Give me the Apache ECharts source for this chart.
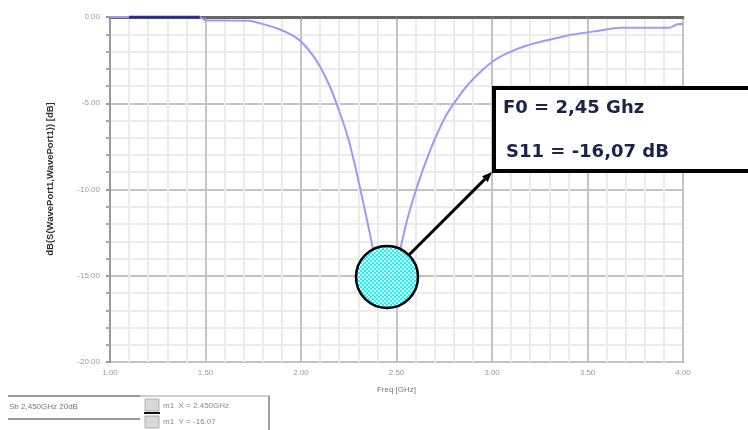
<!DOCTYPE html>
<html>
<head>
<meta charset="utf-8">
<script src="https://cdn.jsdelivr.net/npm/echarts@6/dist/echarts.min.js"></script>
<style>
html,body{margin:0;padding:0;background:#fff;}
#chart{width:748px;height:430px;}
</style>
</head>
<body>
<div id="chart"></div>
<script>
// ---- data ----
const freqGHz = [1.00, 1.47, 1.50, 1.73, 1.78, 1.83, 1.88, 1.93, 1.98, 2.02, 2.06, 2.10, 2.15, 2.20, 2.25, 2.30, 2.35, 2.40, 2.45, 2.50, 2.55, 2.60, 2.65, 2.70, 2.76, 2.82, 2.88, 2.95, 3.02, 3.09, 3.16, 3.25, 3.34, 3.42, 3.55, 3.67, 3.93, 3.97, 4.00];
const s11dB   = [0.00, 0.00, -0.20, -0.22, -0.35, -0.50, -0.68, -0.92, -1.24, -1.65, -2.20, -2.88, -4.00, -5.45, -7.15, -9.45, -12.00, -14.60, -16.07, -14.40, -12.00, -10.10, -8.50, -7.10, -5.70, -4.70, -3.85, -3.07, -2.45, -2.05, -1.74, -1.45, -1.22, -1.02, -0.81, -0.63, -0.62, -0.42, -0.40];
const selFreq = [1.10, 1.47];
const selVal  = [0.00, 0.00];
const markerFreq = [2.45];
const markerVal  = [-15.07];
const xTickValues = [1.00, 1.50, 2.00, 2.50, 3.00, 3.50, 4.00];
const yTickValues = [0.00, -5.00, -10.00, -15.00, -20.00];
const xTitle = 'Freq [GHz]';
const yTitle = 'dB(S(WavePort1,WavePort1)) [dB]';
const noteLines = ['F0 = 2,45 Ghz', 'S11 = -16,07 dB'];
const legendLeft = 'Sb 2,450GHz 20dB';
const legendRight = ['m1  X = 2.450GHz', 'm1  Y = -16.07'];

// marker symbol image: checkered cyan disc with black outline
const S = 66;
const mk = document.createElement('canvas');
mk.width = S; mk.height = S;
const m = mk.getContext('2d');
m.save();
m.beginPath(); m.arc(S / 2, S / 2, S / 2 - 2, 0, Math.PI * 2); m.clip();
for (let yy = 0; yy < S; yy += 2) {
  for (let xx = 0; xx < S; xx += 2) {
    m.fillStyle = ((xx + yy) / 2) % 2 === 0 ? '#00ffff' : '#e6ffff';
    m.fillRect(xx, yy, 2, 2);
  }
}
m.fillStyle = 'rgba(170,170,200,0.35)';
m.fillRect(S / 2 - 1, 0, 2, S);
m.fillRect(0, S / 2 - 1, S, 2);
m.restore();
m.beginPath(); m.arc(S / 2, S / 2, S / 2 - 2, 0, Math.PI * 2);
m.lineWidth = 2.5; m.strokeStyle = '#000'; m.stroke();
const markerSymbol = 'image://' + mk.toDataURL();

const chart = echarts.init(document.getElementById('chart'), null, {renderer: 'canvas'});
const pairs = (xs, ys) => xs.map((x, i) => [x, ys[i]]);

const option = {
  animation: false,
  backgroundColor: '#ffffff',
  grid: {left: 110, top: 17, width: 573, height: 345, show: true, borderColor: '#9a9a9a', borderWidth: 2, backgroundColor: 'transparent'},
  xAxis: {
    type: 'value', min: xTickValues[0], max: xTickValues[xTickValues.length - 1], interval: 0.5,
    name: xTitle, nameLocation: 'middle', nameGap: 24,
    nameTextStyle: {fontSize: 8, color: '#777', fontFamily: 'Liberation Sans'},
    axisLine: {show: true, lineStyle: {color: '#666', width: 3}},
    axisTick: {show: true, length: 3, lineStyle: {color: '#999'}},
    minorTick: {show: false, splitNumber: 5},
    axisLabel: {fontSize: 8, color: '#999', margin: 7, fontFamily: 'Liberation Sans', formatter: v => v.toFixed(2)},
    splitLine: {show: true, lineStyle: {color: '#c4c4c4', width: 2}},
    minorSplitLine: {show: true, lineStyle: {color: '#ebebeb', width: 2}}
  },
  yAxis: {
    type: 'value', min: yTickValues[yTickValues.length - 1], max: yTickValues[0], interval: 5,
    axisLine: {show: true, lineStyle: {color: '#9a9a9a', width: 2}},
    axisTick: {show: true, length: 4, lineStyle: {color: '#999', width: 2}},
    minorTick: {show: true, splitNumber: 5, length: 4, lineStyle: {color: '#aaa', width: 2}},
    axisLabel: {fontSize: 8, color: '#999', margin: 10, fontFamily: 'Liberation Sans', formatter: v => v.toFixed(2)},
    splitLine: {show: true, lineStyle: {color: '#c4c4c4', width: 2}},
    minorSplitLine: {show: true, lineStyle: {color: '#ebebeb', width: 2}}
  },
  series: [
    {
      type: 'line', data: pairs(freqGHz, s11dB), showSymbol: false, smooth: 0.2,
      lineStyle: {color: '#9b9bf5', width: 2}, z: 3
    },
    {
      type: 'line', data: pairs(selFreq, selVal), showSymbol: false,
      lineStyle: {color: '#2e2e8e', width: 3}, z: 4
    },
    {
      type: 'scatter', data: pairs(markerFreq, markerVal), symbol: markerSymbol, symbolSize: S,
      itemStyle: {opacity: 1}, z: 5, silent: true
    }
  ]
};
chart.setOption(option);

// annotation: box + arrow from the marker
const c = chart.convertToPixel({gridIndex: 0}, [markerFreq[0], markerVal[0]]);
const boxX = 494, boxY = 88, boxH = 83;
const tip = [boxX - 2, boxY + boxH + 1];
const r = 32;
const dx = tip[0] - c[0], dy = tip[1] - c[1];
const len = Math.sqrt(dx * dx + dy * dy);
const ux = dx / len, uy = dy / len;
const start = [c[0] + ux * (r - 2), c[1] + uy * (r - 2)];
const ah = 10, aw = 4;
const base = [tip[0] - ux * ah, tip[1] - uy * ah];
const px = -uy, py = ux;

chart.setOption({
  graphic: [
    {type: 'text', x: 50, y: 179, rotation: Math.PI / 2, style: {text: yTitle, font: 'bold 9.5px "Liberation Sans"', fill: '#333', align: 'center', verticalAlign: 'middle'}, z: 100},
    {type: 'line', shape: {x1: start[0], y1: start[1], x2: base[0], y2: base[1]}, style: {stroke: '#000', lineWidth: 3}, z: 100},
    {type: 'polygon', shape: {points: [tip, [base[0] + px * aw, base[1] + py * aw], [base[0] - px * aw, base[1] - py * aw]]}, style: {fill: '#000'}, z: 100},
    {type: 'rect', shape: {x: boxX, y: boxY, width: 300, height: boxH}, style: {fill: '#fff', stroke: '#000', lineWidth: 4}, z: 100},
    {type: 'text', x: 503, y: 108, style: {text: noteLines[0], font: 'bold 18px "DejaVu Sans"', fill: '#1d2348', verticalAlign: 'middle'}, z: 101},
    {type: 'text', x: 506, y: 152, style: {text: noteLines[1], font: 'bold 18px "DejaVu Sans"', fill: '#1d2348', verticalAlign: 'middle'}, z: 101},
    // bottom-left legend panel
    {type: 'line', shape: {x1: 8, y1: 396, x2: 140, y2: 396}, style: {stroke: '#9a9a9a', lineWidth: 2}, z: 100},
    {type: 'line', shape: {x1: 8, y1: 419, x2: 140, y2: 419}, style: {stroke: '#9a9a9a', lineWidth: 2}, z: 100},
    {type: 'text', x: 9, y: 407, style: {text: legendLeft, font: '8px "Liberation Sans"', fill: '#777', verticalAlign: 'middle'}, z: 101},
    {type: 'line', shape: {x1: 140, y1: 396, x2: 270, y2: 396}, style: {stroke: '#cfcfcf', lineWidth: 2}, z: 100},
    {type: 'line', shape: {x1: 269, y1: 396, x2: 269, y2: 430}, style: {stroke: '#a0a0a0', lineWidth: 2}, z: 100},
    {type: 'rect', shape: {x: 145, y: 399, width: 14, height: 12}, style: {fill: '#d8d8d8', stroke: '#b0b0b0', lineWidth: 1}, z: 100},
    {type: 'rect', shape: {x: 145, y: 416, width: 14, height: 12}, style: {fill: '#d8d8d8', stroke: '#b0b0b0', lineWidth: 1}, z: 100},
    {type: 'line', shape: {x1: 144, y1: 413, x2: 160, y2: 413}, style: {stroke: '#111', lineWidth: 2}, z: 101},
    {type: 'text', x: 163, y: 406, style: {text: legendRight[0], font: '8px "Liberation Sans"', fill: '#888', verticalAlign: 'middle'}, z: 101},
    {type: 'text', x: 163, y: 422, style: {text: legendRight[1], font: '8px "Liberation Sans"', fill: '#888', verticalAlign: 'middle'}, z: 101}
  ]
});
</script>
</body>
</html>
